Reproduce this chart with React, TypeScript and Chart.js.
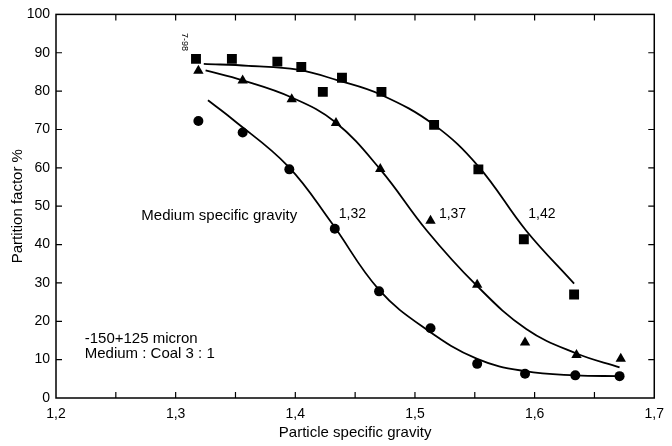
import React, { useEffect, useRef } from "react";
import { Chart, registerables } from "chart.js";

Chart.register(...registerables);

// Measured points (particle specific gravity vs partition factor %)
const squareX = [1.317, 1.347, 1.385, 1.405, 1.423, 1.439, 1.472, 1.516, 1.553, 1.591, 1.633];
const squareY = [88.4, 88.4, 87.7, 86.3, 79.8, 83.5, 79.8, 71.2, 59.6, 41.4, 27.0];

const triangleX = [1.319, 1.356, 1.397, 1.434, 1.471, 1.513, 1.552, 1.592, 1.635, 1.672];
const triangleY = [85.3, 82.8, 77.9, 71.7, 59.7, 46.2, 29.5, 14.5, 11.2, 10.2];

const circleX = [1.319, 1.356, 1.395, 1.433, 1.47, 1.513, 1.552, 1.592, 1.634, 1.671];
const circleY = [72.2, 69.2, 59.6, 44.1, 27.8, 18.2, 8.9, 6.3, 5.9, 5.7];

// Fitted curves
const curve142X = [1.3235, 1.361, 1.402, 1.4355, 1.472, 1.516, 1.553, 1.593, 1.633];
const curve142Y = [87.1, 86.6, 85.6, 82.8, 79.0, 71.2, 60.4, 43.6, 29.8];

const curve137X = [1.325, 1.356, 1.3965, 1.433, 1.471, 1.51, 1.55, 1.593, 1.635, 1.671];
const curve137Y = [85.4, 82.8, 78.4, 72.0, 59.6, 43.6, 29.8, 18.0, 11.6, 8.0];

const curve132X = [1.327, 1.347, 1.394, 1.43, 1.47, 1.51, 1.552, 1.592, 1.634, 1.671];
const curve132Y = [77.6, 72.8, 60.4, 45.8, 28.2, 17.8, 10.2, 7.0, 5.9, 5.7];

// Axis settings
const xMin = 1.2;
const xMax = 1.7;
const xStep = 0.05;
const yMin = 0;
const yMax = 100;
const yStep = 10;

// Annotation texts
const noteTexts = ["Medium specific gravity", "1,32", "1,37", "1,42", "-150+125 micron", "Medium : Coal 3 : 1"];
const noteX = [1.2713, 1.4363, 1.52, 1.5947, 1.224, 1.224];
const noteY = [47.6, 47.8, 47.8, 47.8, 15.4, 11.6];
const noteSize = [15, 14, 14, 14, 15, 15];

const FONT = "'Liberation Sans', Arial, sans-serif";

const toPts = (xs: number[], ys: number[]) => xs.map((x, i) => ({ x, y: ys[i] }));

const framePlugin = {
  id: "frameAndNotes",
  afterDraw(chart: any) {
    const { ctx, chartArea } = chart;
    const { left, right, top, bottom } = chartArea;
    const xs = chart.scales.x;
    const ys = chart.scales.y;
    ctx.save();
    ctx.strokeStyle = "#000";
    ctx.lineWidth = 1.5;
    ctx.strokeRect(left, top, right - left, bottom - top);
    const tl = 6;
    ctx.lineWidth = 1.2;
    ctx.beginPath();
    xs.ticks.forEach((t: any) => {
      const px = xs.getPixelForValue(t.value);
      if (px <= left + 1 || px >= right - 1) return;
      ctx.moveTo(px, bottom);
      ctx.lineTo(px, bottom - tl);
      ctx.moveTo(px, top);
      ctx.lineTo(px, top + tl);
    });
    ys.ticks.forEach((t: any) => {
      const py = ys.getPixelForValue(t.value);
      if (py <= top + 1 || py >= bottom - 1) return;
      ctx.moveTo(left, py);
      ctx.lineTo(left + tl, py);
      ctx.moveTo(right, py);
      ctx.lineTo(right - tl, py);
    });
    ctx.stroke();

    ctx.fillStyle = "#000";
    ctx.textAlign = "left";
    ctx.textBaseline = "middle";
    noteTexts.forEach((txt, i) => {
      ctx.font = `${noteSize[i]}px ${FONT}`;
      ctx.fillText(txt, xs.getPixelForValue(noteX[i]), ys.getPixelForValue(noteY[i]));
    });

    // small handwritten page mark
    ctx.save();
    ctx.translate(xs.getPixelForValue(1.307), ys.getPixelForValue(92.8));
    ctx.rotate(Math.PI / 2);
    ctx.font = `9px ${FONT}`;
    ctx.textAlign = "center";
    ctx.fillText("7-98", 0, 0);
    ctx.restore();

    ctx.restore();
  },
};

export default function App() {
  const ref = useRef<HTMLCanvasElement | null>(null);

  useEffect(() => {
    if (!ref.current) return;
    const lineStyle = {
      type: "line" as const,
      borderColor: "#000",
      borderWidth: 1.8,
      pointRadius: 0,
      fill: false,
      tension: 0.4,
      order: 2,
    };
    const markStyle = {
      type: "scatter" as const,
      backgroundColor: "#000",
      borderColor: "#000",
      borderWidth: 0,
      showLine: false,
      order: 1,
    };
    const chart = new Chart(ref.current, {
      type: "scatter",
      data: {
        datasets: [
          { ...lineStyle, label: "1,42 curve", data: toPts(curve142X, curve142Y) },
          { ...lineStyle, label: "1,37 curve", data: toPts(curve137X, curve137Y) },
          { ...lineStyle, label: "1,32 curve", data: toPts(curve132X, curve132Y) },
          { ...markStyle, label: "1,42", data: toPts(squareX, squareY), pointStyle: "rect", pointRadius: 7 },
          { ...markStyle, label: "1,37", data: toPts(triangleX, triangleY), pointStyle: "triangle", pointRadius: 6 },
          { ...markStyle, label: "1,32", data: toPts(circleX, circleY), pointStyle: "circle", pointRadius: 5 },
        ] as any,
      },
      options: {
        animation: false,
        responsive: false,
        devicePixelRatio: 1,
        layout: { padding: { top: 9, right: 13, left: 0, bottom: 0 } },
        plugins: { legend: { display: false }, tooltip: { enabled: false } },
        scales: {
          x: {
            type: "linear",
            min: xMin,
            max: xMax,
            afterFit: (s: any) => {
              s.height = 48;
            },
            afterBuildTicks: (s: any) => {
              const t = [];
              for (let v = xMin; v <= xMax + 1e-9; v += xStep) t.push({ value: Math.round(v * 100) / 100 });
              s.ticks = t;
            },
            grid: { display: false, drawTicks: false },
            border: { display: false },
            ticks: {
              padding: 8,
              color: "#000",
              font: { size: 14, family: FONT },
              autoSkip: false,
              maxRotation: 0,
              callback: (v: any) => {
                const n = Math.round(Number(v) * 100);
                return n % 10 === 0 ? (n / 100).toFixed(1).replace(".", ",") : "";
              },
            },
            title: {
              display: true,
              text: "Particle specific gravity",
              color: "#000",
              font: { size: 15, family: FONT },
              padding: { top: 0, bottom: 4 },
            },
          },
          y: {
            type: "linear",
            min: yMin,
            max: yMax,
            afterFit: (s: any) => {
              s.width = 56;
            },
            grid: { display: false, drawTicks: false },
            border: { display: false },
            ticks: {
              stepSize: yStep,
              padding: 6,
              color: "#000",
              font: { size: 14, family: FONT },
            },
            title: {
              display: true,
              text: "Partition factor %",
              color: "#000",
              font: { size: 15, family: FONT },
              padding: { top: 9, bottom: 0 },
            },
          },
        },
      },
      plugins: [framePlugin],
    });
    return () => chart.destroy();
  }, []);

  return (
    <div style={{ position: "absolute", left: 0, top: 0, width: 672, height: 446, background: "#fff" }}>
      <canvas ref={ref} width={672} height={446} style={{ display: "block" }} />
    </div>
  );
}
